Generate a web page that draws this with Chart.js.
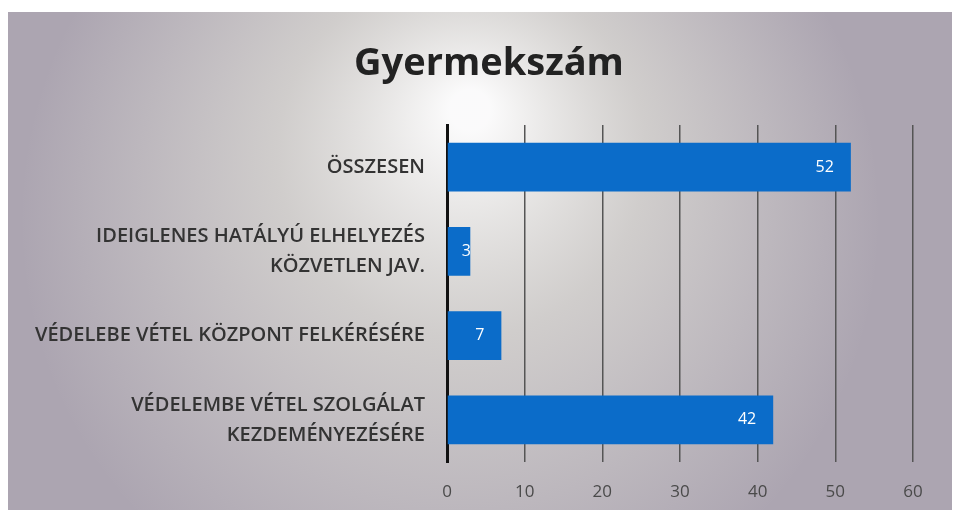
<!DOCTYPE html>
<html>
<head>
<meta charset="utf-8">
<script src="https://cdn.jsdelivr.net/npm/chart.js@4"></script>
<style>
  body { margin: 0; background: #fff; }
  #wrap { width: 958px; height: 517px; }
</style>
</head>
<body>
<div id="wrap"><canvas id="myChart"></canvas></div>
<script>
const chartTitle = 'Gyermekszám';
const categories = [
    'ÖSSZESEN',
    ['IDEIGLENES HATÁLYÚ ELHELYEZÉS', 'KÖZVETLEN JAV.'],
    'VÉDELEBE VÉTEL KÖZPONT FELKÉRÉSÉRE',
    ['VÉDELEMBE VÉTEL SZOLGÁLAT', 'KEZDEMÉNYEZÉSÉRE']
];
const values = [52, 3, 7, 42];
const tickValues = [0, 10, 20, 30, 40, 50, 60];

// scanned-paper look behind the chart, title drawn a bit right of centre like the scan
const paper = {
    id: 'paper',
    beforeDraw(chart) {
        const c = chart.ctx;
        c.save();
        c.fillStyle = '#aca5b1';
        c.fillRect(8, 12, 944, 498);
        const g = c.createRadialGradient(470, 110, 20, 450, 220, 430);
        g.addColorStop(0, 'rgba(255,255,255,0.95)');
        g.addColorStop(0.4, 'rgba(232,232,222,0.6)');
        g.addColorStop(1, 'rgba(232,232,222,0)');
        c.fillStyle = g;
        c.fillRect(8, 12, 944, 498);
        c.restore();
    },
    afterDraw(chart) {
        const c = chart.ctx;
        c.save();
        c.font = 'bold 38px "Open Sans"';
        c.fillStyle = '#222222';
        c.textAlign = 'center';
        c.textBaseline = 'middle';
        c.fillText(chartTitle, 489, 64);
        c.restore();
    }
};

// value labels at the inner end of each bar
const barLabels = {
    id: 'barLabels',
    afterDatasetsDraw(chart) {
        const c = chart.ctx;
        const meta = chart.getDatasetMeta(0);
        c.save();
        c.font = '16px "Open Sans"';
        c.fillStyle = '#ffffff';
        c.textAlign = 'right';
        c.textBaseline = 'middle';
        meta.data.forEach((bar, i) => {
            const w = c.measureText(String(values[i])).width;
            const x = Math.max(bar.x - 17, bar.base + w + 14);
            c.fillText(values[i], x, bar.y);
        });
        c.restore();
    }
};

new Chart(document.getElementById('myChart'), {
    type: 'bar',
    data: {
        labels: categories,
        datasets: [{
            data: values,
            backgroundColor: '#0b6cc9',
            categoryPercentage: 1,
            barPercentage: 0.58
        }]
    },
    options: {
        indexAxis: 'y',
        responsive: true,
        maintainAspectRatio: false,
        animation: false,
        layout: { padding: { top: 125, right: 45, bottom: 14, left: 20 } },
        plugins: {
            legend: { display: false },
            tooltip: { enabled: false },
            title: { display: false }
        },
        scales: {
            x: {
                min: 0,
                max: 60,
                afterBuildTicks(scale) {
                    scale.ticks = tickValues.map(v => ({ value: v }));
                },
                afterFit(scale) { scale.height = 41; },
                grid: { color: '#555555', lineWidth: 1.5, drawTicks: false },
                border: { display: false },
                ticks: {
                    color: '#4a4a4a',
                    padding: 20,
                    font: { family: 'Open Sans', size: 17 }
                }
            },
            y: {
                afterFit(scale) {
                    scale.width = 427;
                    scale.paddingTop = 0;
                    scale.paddingBottom = 0;
                },
                grid: { display: false, drawTicks: false },
                border: { color: '#111111', width: 3 },
                ticks: {
                    color: '#333333',
                    padding: 22,
                    font: { family: 'Open Sans', size: 20, weight: '600', lineHeight: 1.5 }
                }
            }
        }
    },
    plugins: [paper, barLabels]
});
</script>
</body>
</html>
